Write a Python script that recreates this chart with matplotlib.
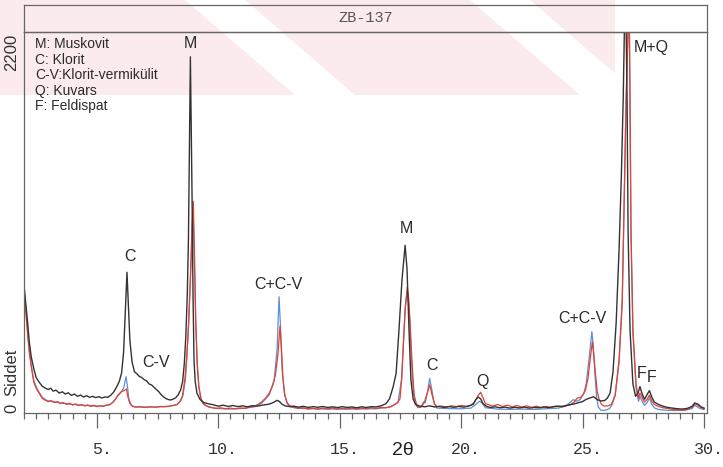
import numpy as np
import matplotlib.pyplot as plt
import matplotlib.transforms as mtransforms
from matplotlib.patches import Polygon, Rectangle

# XRD scan of sample ZB-137, three runs (2theta, counts)
black_scan = [
    (2.02, 740), (2.08, 650), (2.15, 540), (2.22, 420), (2.30, 330), (2.40, 262), (2.50, 205),
    (2.62, 178), (2.75, 152), (2.88, 140), (3.00, 132), (3.10, 140), (3.20, 122), (3.32, 128),
    (3.45, 110), (3.58, 118), (3.70, 104), (3.82, 112), (3.95, 96), (4.08, 104), (4.20, 90),
    (4.33, 98), (4.45, 86), (4.58, 94), (4.70, 84), (4.83, 90), (4.95, 82), (5.08, 88),
    (5.20, 80), (5.33, 86), (5.45, 84), (5.58, 98), (5.70, 118), (5.82, 150), (5.92, 180),
    (6.02, 235), (6.10, 360), (6.17, 600), (6.24, 850), (6.30, 640), (6.36, 430), (6.45, 300),
    (6.55, 240), (6.65, 228), (6.75, 212), (6.85, 205), (6.95, 192), (7.05, 185), (7.15, 166),
    (7.25, 160), (7.35, 146), (7.45, 132), (7.55, 118), (7.65, 100), (7.75, 86), (7.85, 76),
    (7.95, 70), (8.05, 68), (8.15, 74), (8.25, 82), (8.35, 100), (8.45, 130), (8.53, 180),
    (8.60, 290), (8.66, 450), (8.72, 700), (8.77, 1050), (8.81, 1600), (8.85, 2170), (8.88, 1800),
    (8.92, 1300), (8.96, 700), (9.00, 310), (9.05, 180), (9.12, 110), (9.25, 70), (9.40, 52),
    (9.60, 44), (9.80, 38), (10.0, 30), (10.2, 36), (10.4, 28), (10.6, 34), (10.8, 27),
    (11.0, 32), (11.2, 26), (11.4, 33), (11.6, 30), (11.8, 36), (12.0, 40), (12.15, 45),
    (12.3, 55), (12.42, 66), (12.52, 58), (12.62, 42), (12.75, 32), (12.9, 28), (13.1, 30),
    (13.3, 24), (13.5, 29), (13.7, 22), (13.9, 27), (14.1, 23), (14.3, 28), (14.5, 22),
    (14.7, 26), (14.9, 21), (15.1, 27), (15.3, 22), (15.5, 25), (15.7, 20), (15.9, 26),
    (16.1, 22), (16.3, 27), (16.5, 25), (16.7, 32), (16.9, 45), (17.05, 75), (17.2, 150),
    (17.32, 230), (17.44, 500), (17.56, 800), (17.69, 1015), (17.77, 870), (17.85, 500),
    (17.93, 190), (18.02, 75), (18.12, 40), (18.3, 30), (18.5, 26), (18.7, 32), (18.9, 25),
    (19.1, 28), (19.3, 22), (19.5, 27), (19.7, 23), (19.9, 28), (20.1, 24), (20.3, 30),
    (20.5, 42), (20.6, 70), (20.7, 85), (20.8, 75), (20.9, 45), (21.05, 28), (21.2, 22),
    (21.4, 26), (21.6, 20), (21.8, 24), (22.0, 18), (22.2, 23), (22.4, 19), (22.6, 24),
    (22.8, 18), (23.0, 22), (23.2, 20), (23.4, 25), (23.6, 21), (23.8, 27), (24.0, 30),
    (24.2, 28), (24.4, 36), (24.6, 42), (24.8, 50), (25.0, 58), (25.15, 72), (25.3, 80),
    (25.45, 88), (25.6, 70), (25.75, 62), (25.9, 64), (26.02, 80), (26.13, 110), (26.25, 240),
    (26.38, 540), (26.50, 990), (26.59, 1420), (26.67, 1910), (26.76, 2700), (26.83, 1900),
    (26.87, 1110), (26.95, 500), (27.07, 165), (27.18, 90), (27.28, 110), (27.36, 150),
    (27.45, 105), (27.55, 72), (27.65, 100), (27.75, 125), (27.85, 85), (27.95, 55), (28.1, 42),
    (28.3, 30), (28.5, 22), (28.7, 18), (28.9, 14), (29.1, 12), (29.3, 16), (29.5, 28),
    (29.62, 50), (29.75, 42), (29.88, 25), (30.0, 18),
]

red_scan = [
    (2.02, 700), (2.08, 600), (2.15, 470), (2.22, 360), (2.30, 270), (2.40, 180), (2.50, 140),
    (2.62, 110), (2.75, 78), (2.88, 66), (3.00, 58), (3.12, 64), (3.25, 52), (3.38, 58),
    (3.50, 46), (3.62, 52), (3.75, 40), (3.88, 48), (4.00, 36), (4.12, 44), (4.25, 34),
    (4.38, 40), (4.50, 30), (4.62, 38), (4.75, 28), (4.88, 35), (5.00, 27), (5.12, 33),
    (5.25, 28), (5.38, 36), (5.50, 38), (5.62, 48), (5.75, 70), (5.88, 100), (6.00, 118),
    (6.12, 125), (6.22, 135), (6.28, 85), (6.36, 45), (6.48, 28), (6.6, 24), (6.8, 26),
    (7.0, 22), (7.2, 27), (7.4, 23), (7.6, 28), (7.8, 26), (8.0, 30), (8.15, 34), (8.3, 40),
    (8.42, 58), (8.52, 90), (8.62, 190), (8.70, 330), (8.78, 540), (8.85, 820), (8.92, 1100),
    (8.97, 1285), (9.02, 950), (9.07, 560), (9.13, 300), (9.20, 150), (9.28, 80), (9.36, 48),
    (9.5, 32), (9.7, 22), (9.9, 16), (10.1, 20), (10.3, 14), (10.5, 18), (10.7, 13),
    (10.9, 19), (11.1, 16), (11.3, 24), (11.5, 30), (11.65, 42), (11.8, 58), (11.95, 80),
    (12.1, 110), (12.25, 160), (12.35, 220), (12.45, 340), (12.54, 520), (12.60, 380),
    (12.66, 200), (12.74, 95), (12.84, 50), (12.95, 30), (13.1, 22), (13.3, 16), (13.5, 20),
    (13.7, 12), (13.9, 17), (14.1, 11), (14.3, 18), (14.5, 13), (14.7, 19), (14.9, 12),
    (15.1, 17), (15.3, 13), (15.5, 18), (15.7, 12), (15.9, 18), (16.1, 14), (16.3, 20),
    (16.5, 16), (16.7, 22), (16.9, 20), (17.1, 28), (17.25, 38), (17.38, 50), (17.48, 75),
    (17.55, 200), (17.60, 357), (17.69, 620), (17.78, 760), (17.84, 680), (17.89, 560),
    (17.97, 314), (18.06, 98), (18.18, 30), (18.3, 22), (18.42, 38), (18.5, 60), (18.6, 110),
    (18.7, 160), (18.8, 100), (18.9, 45), (19.0, 28), (19.2, 30), (19.4, 25), (19.6, 32),
    (19.8, 27), (20.0, 34), (20.2, 29), (20.4, 35), (20.55, 55), (20.7, 95), (20.8, 115),
    (20.9, 80), (21.0, 45), (21.15, 38), (21.3, 30), (21.5, 40), (21.7, 28), (21.9, 36),
    (22.1, 26), (22.3, 34), (22.5, 24), (22.7, 32), (22.9, 22), (23.1, 30), (23.3, 20),
    (23.5, 28), (23.7, 22), (23.9, 30), (24.1, 26), (24.3, 34), (24.5, 40), (24.65, 55),
    (24.78, 80), (24.9, 82), (25.02, 100), (25.12, 130), (25.22, 200), (25.32, 330),
    (25.40, 424), (25.46, 340), (25.52, 240), (25.6, 120), (25.68, 70), (25.78, 40),
    (25.9, 30), (26.05, 32), (26.18, 40), (26.34, 98), (26.5, 314), (26.63, 683), (26.71, 1300),
    (26.79, 1910), (26.87, 2340), (26.91, 2600), (26.95, 1910), (26.99, 1110), (27.07, 500),
    (27.2, 160), (27.3, 80), (27.36, 110), (27.45, 85), (27.55, 55), (27.65, 70), (27.75, 98),
    (27.85, 60), (27.95, 40), (28.1, 30), (28.3, 20), (28.5, 16), (28.7, 10), (28.9, 8),
    (29.1, 6), (29.3, 10), (29.5, 22), (29.62, 45), (29.75, 35), (29.88, 20), (30.0, 14),
]

blue_scan = [
    (2.02, 720), (2.08, 620), (2.15, 490), (2.22, 370), (2.30, 280), (2.40, 190), (2.50, 150),
    (2.62, 115), (2.75, 85), (2.88, 70), (3.0, 62), (3.15, 58), (3.3, 55), (3.45, 50),
    (3.6, 48), (3.75, 45), (3.9, 42), (4.05, 40), (4.2, 38), (4.35, 36), (4.5, 35), (4.65, 33),
    (4.8, 32), (4.95, 31), (5.1, 30), (5.25, 31), (5.4, 34), (5.55, 40), (5.7, 60), (5.85, 90),
    (6.0, 115), (6.1, 140), (6.2, 210), (6.26, 150), (6.32, 70), (6.42, 35), (6.55, 26),
    (7.0, 24), (7.5, 25), (8.0, 30), (8.3, 40), (8.45, 62), (8.55, 100), (8.65, 200),
    (8.75, 450), (8.85, 800), (8.92, 1150), (8.96, 1250), (9.01, 950), (9.07, 540), (9.13, 280),
    (9.2, 140), (9.3, 70), (9.4, 42), (9.6, 24), (10.0, 15), (10.5, 12), (11.0, 16), (11.5, 26),
    (11.8, 50), (12.1, 100), (12.3, 190), (12.42, 380), (12.5, 700), (12.56, 520), (12.63, 250),
    (12.72, 110), (12.82, 50), (12.95, 25), (13.5, 15), (14.5, 12), (15.5, 12), (16.5, 14),
    (17.1, 25), (17.4, 55), (17.55, 200), (17.62, 400), (17.7, 640), (17.78, 740), (17.85, 640),
    (17.92, 420), (18.0, 180), (18.1, 50), (18.22, 20), (18.35, 25), (18.45, 55), (18.52, 50),
    (18.62, 120), (18.7, 200), (18.78, 140), (18.88, 50), (19.0, 18), (19.5, 15), (20.0, 14),
    (20.4, 18), (20.6, 40), (20.75, 60), (20.85, 50), (21.0, 20), (21.5, 12), (22.0, 10),
    (22.5, 12), (23.0, 10), (23.5, 14), (24.0, 18), (24.3, 30), (24.5, 55), (24.62, 70),
    (24.75, 60), (24.9, 70), (25.05, 110), (25.15, 170), (25.27, 330), (25.38, 486),
    (25.44, 400), (25.5, 240), (25.57, 90), (25.64, 25), (25.75, 5), (25.9, 4), (26.0, 8),
    (26.1, 15), (26.2, 35), (26.34, 95), (26.5, 300), (26.63, 660), (26.71, 1280), (26.79, 1900),
    (26.87, 2330), (26.91, 2580), (26.95, 1900), (26.99, 1090), (27.07, 480), (27.2, 140),
    (27.3, 60), (27.36, 90), (27.45, 60), (27.55, 35), (27.65, 50), (27.75, 80), (27.85, 40),
    (27.95, 20), (28.1, 10), (28.4, 5), (28.8, 3), (29.2, 4), (29.5, 15), (29.62, 35),
    (29.8, 18), (30.0, 8),
]

# peak annotations: text, 2theta, counts
peak_names = ["M", "C", "C-V", "C+C-V", "M", "C", "Q", "C+C-V", "M+Q", "F", "F"]
peak_2theta = [8.84, 6.37, 7.44, 12.46, 17.73, 18.80, 20.86, 25.00, 27.81, 27.44, 27.85]
peak_counts = [2250, 944, 300, 778, 1121, 276, 184, 564, 2224, 227, 208]

legend_lines = ["M: Muskovit", "C: Klorit", "C-V:Klorit-vermikülit", "Q: Kuvars", "F: Feldispat"]
x_major = [5, 10, 15, 20, 25, 30]
sample_name = "ZB-137"

W, H = 723, 467


def px_box(x0, y0, x1, y1):
    """Axes rectangle from pixel corners (top-left origin)."""
    return [x0 / W, 1 - y1 / H, (x1 - x0) / W, (y1 - y0) / H]


plt.rcParams['font.family'] = ['Liberation Sans', 'DejaVu Sans']
fig = plt.figure(figsize=(W / 100, H / 100), dpi=100)
fig.patch.set_facecolor('white')

# faint pink watermark band from the scanned page, wide stripes with thin white gaps
clip = Rectangle((0, 1 - 95 / H), 615 / W, 95 / H, transform=fig.transFigure)
for x0, x1 in [(-200, 185), (245, 470), (530, 780)]:
    pts = [(x0, 0), (x1, 0), (x1 + 110, 95), (x0 + 110, 95)]
    poly = Polygon([(px / W, 1 - py / H) for px, py in pts], closed=True,
                   transform=fig.transFigure, facecolor='#fcebed', edgecolor='none', zorder=0)
    poly.set_clip_path(clip)
    fig.add_artist(poly)

ax = fig.add_axes(px_box(24, 32, 707, 413))
ax.patch.set_alpha(0)
ax_t = fig.add_axes(px_box(24, 5, 707, 32))
ax_t.patch.set_alpha(0)
ax_t.set_xticks([])
ax_t.set_yticks([])
ax_t.text(0.5, 0.5, sample_name, transform=ax_t.transAxes, ha='center', va='center',
          fontfamily='Liberation Mono', fontsize=11, color='#555555')

frame_col = '#666666'
for a in (ax, ax_t):
    for s in a.spines.values():
        s.set_color(frame_col)
        s.set_linewidth(0.9)

for scan, col, lw in [(blue_scan, '#5b8fd6', 0.9), (red_scan, '#e5402c', 0.9),
                      (black_scan, '#333333', 1.0)]:
    arr = np.array(scan)
    ax.plot(arr[:, 0], arr[:, 1], color=col, lw=lw)

ax.set_xlim(2.01, 30.12)
ax.set_ylim(-12, 2322)

ax.set_xticks(x_major)
ax.set_xticks(np.arange(2.0, 30.01, 0.5), minor=True)
ax.set_xticklabels([])
ax.set_yticks([])
ax.tick_params(axis='x', which='major', direction='out', length=11, width=0.9, color=frame_col)
ax.tick_params(axis='x', which='minor', direction='out', length=4, width=0.9, color=frame_col)

# x tick labels with the trailing dot, number centred on the tick
lab_tr = mtransforms.offset_copy(ax.get_xaxis_transform(), fig=fig, x=3.6, y=0, units='points')
for v in x_major:
    ax.text(v, -0.097, f"{v}.", transform=lab_tr, ha='center', va='center',
            fontfamily='Liberation Mono', fontsize=12, color='#333333')

ax.text(17.6, -0.099, "2θ", transform=ax.get_xaxis_transform(), ha='center', va='center',
        fontsize=14, color='#222222')

# y axis labels, rotated
ytr = ax.get_yaxis_transform()
ax.text(-0.0176, 2200, "2200", transform=ytr, rotation=90, ha='center', va='center',
        fontsize=12, color='#333333')
ax.text(-0.0176, 18, "0", transform=ytr, rotation=90, ha='center', va='center',
        fontsize=12, color='#333333')
ax.text(-0.0176, 239, "Siddet", transform=ytr, rotation=90, ha='center', va='center',
        fontsize=12, color='#333333')

for i, line in enumerate(legend_lines):
    ax.text(0.016, (413 - 44 - i * 15.5) / 381, line, transform=ax.transAxes,
            ha='left', va='center', fontsize=10, color='#2a2a2a')

for name, t, c in zip(peak_names, peak_2theta, peak_counts):
    ax.text(t, c, name, ha='center', va='center', fontsize=11.5, color='#2a2a2a')

fig.savefig('out.png', dpi=100)
